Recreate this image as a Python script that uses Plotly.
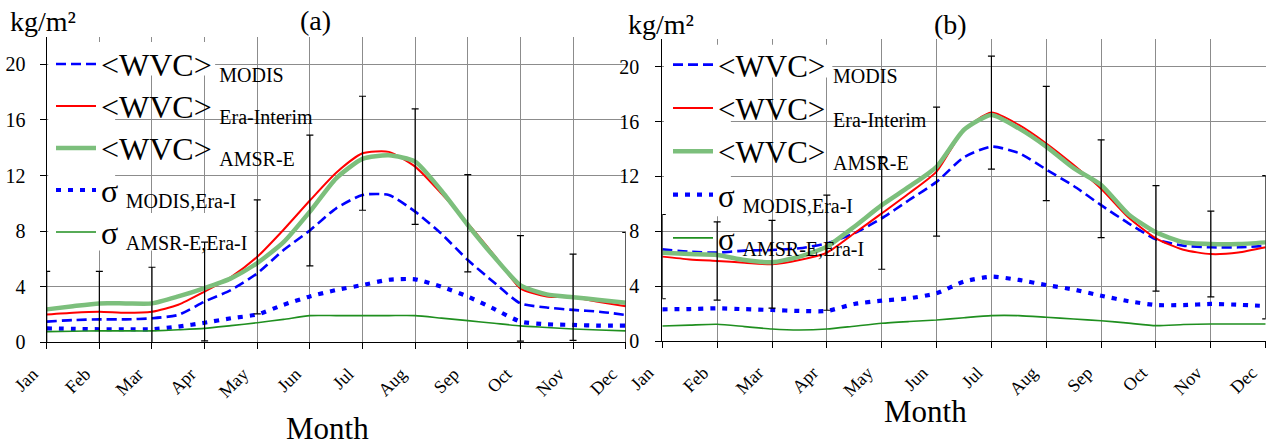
import plotly.graph_objects as go

# ---------------- data ----------------
months = ["Jan", "Feb", "Mar", "Apr", "May", "Jun", "Jul", "Aug", "Sep", "Oct", "Nov", "Dec"]
month_pos = [0, 1, 2, 3, 4, 5, 6, 7, 8, 9, 10, 11]
half_month_pos = [0, 0.5, 1, 1.5, 2, 2.5, 3, 3.5, 4, 4.5, 5, 5.5, 6, 6.5, 7, 7.5, 8, 8.5, 9, 9.5, 10, 10.5, 11]
y_ticks = [0, 4, 8, 12, 16, 20]

# panel (a)
modis_a = [1.49, 1.60, 1.65, 1.65, 1.73, 1.97, 2.93, 3.76, 4.96, 6.64, 8.05, 9.64,
           10.60, 10.60, 9.40, 7.80, 5.92, 4.30, 2.80, 2.50, 2.33, 2.20, 1.97]
era_a = [2.00, 2.13, 2.20, 2.12, 2.20, 2.70, 3.65, 4.70, 6.15, 8.10, 10.20, 12.20,
         13.60, 13.70, 12.64, 10.70, 8.56, 6.28, 3.88, 3.30, 3.24, 2.90, 2.60]
amsr_a = [2.37, 2.60, 2.80, 2.80, 2.80, 3.30, 3.90, 4.60, 5.70, 7.20, 9.40, 11.80,
          13.20, 13.45, 13.00, 10.90, 8.44, 6.15, 4.10, 3.45, 3.24, 3.05, 2.85]
sig_modis_a = [1.00, 0.97, 0.94, 0.94, 0.94, 1.13, 1.41, 1.73, 2.00, 2.70, 3.30, 3.76,
               4.12, 4.50, 4.53, 4.00, 3.29, 2.40, 1.49, 1.30, 1.25, 1.20, 1.20]
sig_amsr_a = [0.77, 0.80, 0.82, 0.82, 0.82, 0.90, 1.00, 1.20, 1.41, 1.65, 1.92, 1.92,
              1.92, 1.92, 1.92, 1.74, 1.56, 1.37, 1.18, 1.07, 0.96, 0.89, 0.82]
err_a = [3.10, 2.90, 3.20, 3.55, 4.10, 4.70, 4.10, 4.16, 3.50, 3.80, 3.10, 5.30]

# panel (b)
modis_b = [6.68, 6.51, 6.44, 6.59, 6.63, 6.76, 7.12, 7.85, 8.94, 10.28, 11.60, 13.40,
           14.17, 13.70, 12.50, 11.30, 9.90, 8.58, 7.41, 6.95, 6.83, 6.83, 6.93]
era_b = [6.15, 5.95, 5.83, 5.71, 5.59, 5.90, 6.44, 7.85, 9.30, 10.77, 12.35, 15.40,
         16.65, 15.75, 14.40, 12.83, 11.10, 9.00, 7.48, 6.65, 6.34, 6.45, 6.83]
amsr_b = [6.44, 6.34, 6.27, 5.90, 5.74, 6.15, 6.88, 8.33, 9.90, 11.25, 12.70, 15.40,
          16.48, 15.50, 14.17, 12.60, 11.37, 9.23, 7.92, 7.20, 7.07, 7.07, 7.19]
sig_modis_b = [2.31, 2.33, 2.38, 2.32, 2.26, 2.19, 2.19, 2.70, 2.94, 3.11, 3.48, 4.33,
               4.69, 4.45, 4.08, 3.75, 3.30, 2.90, 2.62, 2.62, 2.70, 2.64, 2.55]
sig_amsr_b = [1.09, 1.16, 1.22, 1.05, 0.87, 0.80, 0.87, 1.08, 1.29, 1.42, 1.53, 1.70,
              1.85, 1.85, 1.73, 1.60, 1.48, 1.30, 1.12, 1.20, 1.24, 1.24, 1.24]
err_b = [3.07, 2.85, 3.20, 4.20, 4.07, 4.70, 4.12, 4.16, 3.56, 3.84, 3.13, 5.22]

legend_main = ["&lt;WVC&gt;", "&lt;WVC&gt;", "&lt;WVC&gt;", "σ", "σ"]
legend_sub = ["MODIS", "Era-Interim", "AMSR-E", "MODIS,Era-I", "AMSR-E,Era-I"]


def entry(main, sub, main_px):
    return ('<span style="font-size:%dpx">%s</span> '
            '<sub><span style="font-size:20px">%s</span></sub>' % (main_px, main, sub))


styles = [
    dict(color="#0000ff", width=2.6, dash="10px,5px"),
    dict(color="#ff0000", width=2.0),
    dict(color="#7cbf7c", width=4.5),
    dict(color="#0000ff", width=4.2, dash="5px,7px"),
    dict(color="#1f8f1f", width=1.6),
]

FONT = "Liberation Serif, Times New Roman, serif"
GRID = "#8c8c8c"
fig = go.Figure()

panels = [
    ("x", "y", "legend", [modis_a, era_a, amsr_a, sig_modis_a, sig_amsr_a], era_a, err_a, 32),
    ("x2", "y2", "legend2", [modis_b, era_b, amsr_b, sig_modis_b, sig_amsr_b], era_b, err_b, 31),
]

for xa, ya, leg, series, era, err, main_px in panels:
    for m, s, vals, st in zip(legend_main, legend_sub, series, styles):
        fig.add_trace(go.Scatter(
            x=half_month_pos, y=vals, mode="lines", name=entry(m, s, main_px),
            line=dict(shape="spline", smoothing=0.6, **st),
            xaxis=xa, yaxis=ya, legend=leg,
        ))
    fig.add_trace(go.Scatter(
        x=month_pos, y=era[::2], mode="markers", marker=dict(size=0.1, color="black"),
        error_y=dict(type="data", array=err, color="black", thickness=1.2, width=3.5),
        xaxis=xa, yaxis=ya, showlegend=False, hoverinfo="skip",
    ))


def xaxis_cfg(domain, anchor):
    return dict(
        domain=domain, anchor=anchor, automargin=False,
        range=[0, 11], tickvals=month_pos, ticktext=months, tickangle=-45,
        ticks="outside", ticklen=6, tickcolor="black", tickwidth=1,
        showgrid=True, gridcolor=GRID, gridwidth=1,
        showline=True, linecolor="black", linewidth=1.3, zeroline=False,
        tickfont=dict(family=FONT, size=18, color="black"),
        ticklabelstandoff=7, ticklabelshift=-14,
    )


def yaxis_cfg(domain, anchor, standoff):
    return dict(
        domain=domain, anchor=anchor, automargin=False,
        range=[0, 22], tickvals=y_ticks, ticks="outside", ticklen=6, tickcolor="black",
        showgrid=True, gridcolor=GRID, gridwidth=1,
        showline=True, linecolor="black", linewidth=1.3, zeroline=False,
        tickfont=dict(family=FONT, size=20, color="black"), ticklabelstandoff=standoff,
    )


W, H = 1282, 447
fig.update_layout(
    width=W, height=H, margin=dict(l=0, r=0, t=0, b=0, autoexpand=False),
    paper_bgcolor="white", plot_bgcolor="white",
    font=dict(family=FONT, color="black"),
    xaxis=xaxis_cfg([46.7 / W, 625.7 / W], "y"),
    yaxis=yaxis_cfg([1 - 342.3 / H, 1 - 36.5 / H], "x", 10),
    xaxis2=xaxis_cfg([662.3 / W, 1265.7 / W], "y2"),
    yaxis2=yaxis_cfg([1 - 341.0 / H, 1 - 39.2 / H], "x2", 12),
    legend=dict(x=51 / W, y=1 - 38 / H, xanchor="left", yanchor="top",
                bgcolor="rgba(0,0,0,0)", itemwidth=40, tracegroupgap=0,
                font=dict(family=FONT, size=30, color="black")),
    legend2=dict(x=668 / W, y=1 - 38 / H, xanchor="left", yanchor="top",
                 bgcolor="rgba(0,0,0,0)", itemwidth=40, tracegroupgap=0,
                 font=dict(family=FONT, size=31, color="black")),
    showlegend=True,
)

# white boxes behind the legend text (hide gridlines, as in the original)
for xr, yr, (x0, x1, y0, y1) in [
    ("x", "y", (0.03, 1.3, 6.6, 21.6)),
    ("x", "y", (1.3, 3.2, 19.2, 21.6)),
    ("x", "y", (1.3, 3.95, 6.6, 9.3)),
    ("x2", "y2", (0.03, 1.25, 9.1, 21.6)),
    ("x2", "y2", (1.25, 3.1, 19.2, 21.6)),
]:
    fig.add_shape(type="rect", xref=xr, yref=yr, x0=x0, x1=x1, y0=y0, y1=y1,
                  fillcolor="white", line=dict(width=0), layer="between")

ann = [
    ("(a)", 315, 20, 28, "center"),
    ("(b)", 950, 24, 28, "center"),
    ("kg/m²", 9, 21, 28, "left"),
    ("kg/m²", 627, 25, 28, "left"),
    ("Month", 327, 428, 31, "center"),
    ("Month", 926, 411, 31, "center"),
]
for text, px, py, fs, xa in ann:
    fig.add_annotation(text=text, x=px / W, y=1 - py / H, xref="paper", yref="paper",
                       xanchor=xa, yanchor="middle", showarrow=False, borderpad=0,
                       font=dict(family=FONT, size=fs, color="black"))

fig.write_html(
    "out.html",
    config={"displayModeBar": False},
    post_script="document.body.style.margin='0';document.body.style.overflow='hidden';",
)
